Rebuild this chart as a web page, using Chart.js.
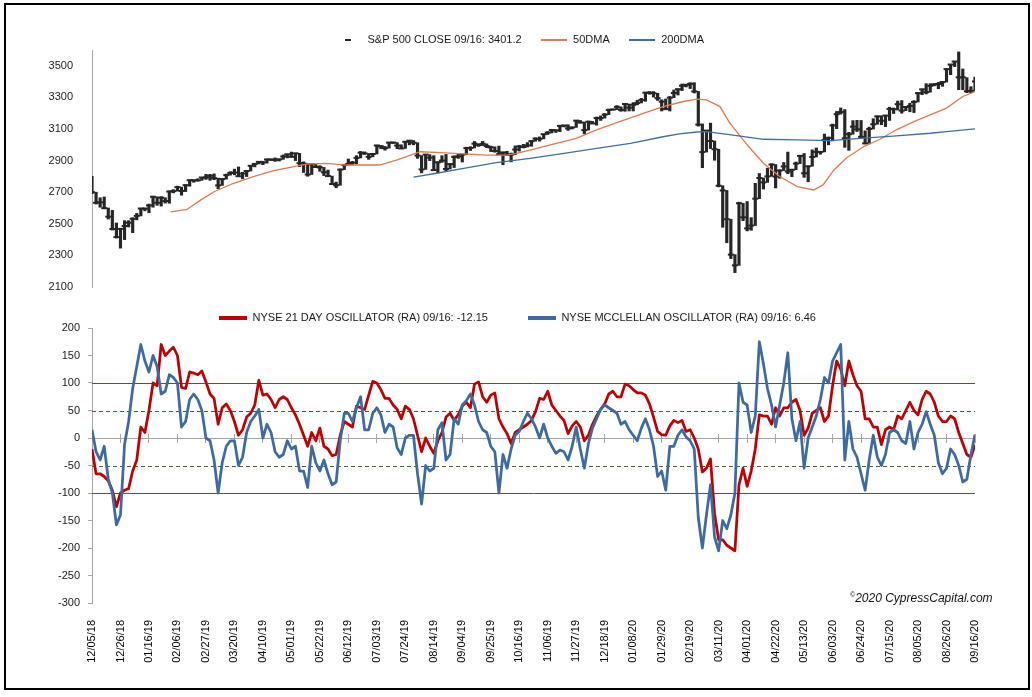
<!DOCTYPE html>
<html lang="en">
<head>
<meta charset="UTF-8">
<title>S&amp;P 500 and NYSE breadth oscillators</title>
<style>
  html, body { margin: 0; padding: 0; background: #fff; }
  body { width: 1032px; height: 697px; position: relative; overflow: hidden; font-family: "Liberation Sans", Arial, sans-serif; }
  .frame { position: absolute; left: 4px; top: 3px; width: 1026px; height: 687px; box-sizing: border-box; border: 2px solid #000; }
  #priceChart { position: absolute; left: 0; top: 0; }
  #oscChart { position: absolute; left: 0; top: 270px; }
  .credit { position: absolute; left: 850px; top: 591px; font-size: 12px; font-style: italic; color: #111; }
  .credit sup { font-size: 7px; }
</style>
</head>
<body>
<canvas id="priceChart" width="1032" height="297"></canvas>
<canvas id="oscChart" width="1032" height="420"></canvas>
<div class="frame"></div>
<div class="credit"><sup>©</sup>2020 CypressCapital.com</div>

<script src="https://cdn.jsdelivr.net/npm/chart.js"></script>
<script>
// days counted from 12/05/18, one sample every 3 calendar days up to 09/16/20 (day 651)
const sampleDays = [];
for (let d = 0; d <= 651; d += 3) sampleDays.push(d);

const dateLabels = ['12/05/18','12/26/18','01/16/19','02/06/19','02/27/19','03/20/19','04/10/19','05/01/19',
  '05/22/19','06/12/19','07/03/19','07/24/19','08/14/19','09/04/19','09/25/19','10/16/19','11/06/19','11/27/19',
  '12/18/19','01/08/20','01/29/20','02/19/20','03/11/20','04/01/20','04/22/20','05/13/20','06/03/20','06/24/20',
  '07/15/20','08/05/20','08/26/20','09/16/20'];

const priceTicks = [2100, 2300, 2500, 2700, 2900, 3100, 3300, 3500];
const oscTicks = [200, 150, 100, 50, 0, -50, -100, -150, -200, -250, -300];
const refLevels = [100, 50, -50, -100];

// S&P 500 range and close per sample
const spxLow = [2690,2625,2605,2595,2530,2460,2410,2346,2400,2480,
  2444,2525,2550,2582,2570,2605,2617,2612,2631,2630,
  2696,2707,2681,2704,2738,2763,2770,2775,2781,2775,
  2779,2722,2743,2783,2808,2810,2800,2785,2799,2834,
  2860,2879,2874,2884,2900,2895,2897,2908,2917,2923,
  2900,2862,2825,2801,2812,2855,2832,2805,2799,2750,
  2728,2744,2843,2873,2873,2880,2917,2940,2908,2924,
  2942,2975,2966,2979,3008,2975,2975,2977,3000,3000,
  2914,2822,2844,2900,2840,2822,2889,2834,2847,2856,
  2914,2891,2938,2964,2980,2990,2995,2982,2957,2953,
  2940,2874,2935,2892,2938,2960,2980,2986,2991,3023,
  3023,3038,3065,3075,3078,3083,3113,3091,3100,3110,
  3138,3070,3093,3134,3124,3154,3169,3191,3220,3223,
  3212,3212,3214,3214,3253,3265,3275,3320,3302,3281,
  3214,3222,3214,3298,3315,3343,3366,3356,3328,3118,
  2855,2954,2976,2902,2734,2478,2380,2280,2191,2237,
  2520,2455,2459,2489,2659,2720,2762,2800,2727,2788,
  2837,2817,2798,2842,2881,2794,2766,2864,2923,2940,
  2955,3000,3025,3102,3194,2984,2965,3067,3084,3044,
  3006,3009,3100,3130,3127,3115,3154,3198,3220,3200,
  3216,3209,3204,3271,3317,3322,3333,3373,3355,3370,
  3397,3444,3495,3349,3349,3330,3329,3341];
const spxHigh = [2800,2700,2665,2670,2600,2585,2505,2468,2520,2520,
  2538,2566,2597,2600,2625,2675,2671,2672,2665,2708,
  2716,2738,2732,2748,2776,2776,2785,2794,2813,2813,
  2816,2789,2785,2815,2830,2846,2860,2826,2836,2869,
  2881,2893,2896,2910,2910,2917,2910,2936,2940,2954,
  2947,2946,2892,2881,2880,2876,2868,2857,2840,2802,
  2764,2847,2876,2910,2895,2931,2958,2955,2945,2944,
  2996,2996,2990,3014,3017,3014,3000,3019,3028,3027,
  3013,2932,2938,2938,2931,2893,2931,2939,2879,2930,
  2940,2938,2985,2988,3021,3007,3022,3006,2992,2987,
  2992,2952,2959,2948,2993,2997,3003,3014,3027,3044,
  3050,3067,3084,3098,3093,3120,3124,3127,3112,3154,
  3154,3144,3150,3148,3176,3183,3198,3226,3227,3248,
  3240,3258,3258,3267,3282,3294,3330,3337,3337,3326,
  3285,3290,3306,3347,3352,3385,3380,3393,3393,3338,
  3132,3090,3137,3024,2972,2741,2711,2529,2305,2637,
  2630,2641,2539,2756,2818,2790,2852,2880,2875,2842,
  2888,2954,2842,2891,2932,2945,2865,2968,2980,2957,
  3068,3049,3131,3211,3233,3223,3079,3153,3155,3154,
  3088,3112,3165,3182,3184,3186,3238,3233,3277,3280,
  3242,3263,3280,3330,3352,3387,3387,3388,3395,3399,
  3481,3509,3528,3588,3480,3425,3368,3428];
const spxClose = [2700,2633,2636,2599,2545,2467,2416,2468,2486,2507,
  2532,2550,2597,2596,2616,2671,2633,2665,2644,2704,
  2707,2732,2708,2744,2776,2776,2775,2793,2793,2804,
  2789,2743,2783,2808,2822,2824,2801,2818,2834,2867,
  2879,2892,2888,2907,2907,2905,2908,2926,2940,2924,
  2946,2884,2881,2812,2876,2860,2857,2826,2802,2752,
  2744,2843,2873,2879,2887,2917,2950,2945,2924,2942,
  2996,2990,2979,3014,3014,2995,2977,3019,3026,3013,
  2932,2844,2938,2919,2840,2889,2900,2847,2878,2924,
  2926,2938,2979,2980,3007,2998,3006,2992,2984,2961,
  2940,2952,2938,2938,2970,2989,2986,2996,3023,3039,
  3038,3067,3077,3093,3092,3120,3122,3104,3110,3153,
  3141,3093,3146,3135,3169,3169,3191,3221,3223,3240,
  3221,3258,3235,3253,3265,3283,3330,3330,3326,3295,
  3273,3226,3298,3328,3352,3374,3380,3386,3338,3128,
  2954,3090,3024,2972,2741,2711,2529,2305,2237,2630,
  2541,2471,2489,2659,2790,2762,2800,2875,2799,2837,
  2863,2831,2842,2881,2930,2820,2864,2923,2955,2955,
  3030,3044,3123,3194,3207,3041,3067,3115,3098,3050,
  3009,3100,3130,3180,3152,3185,3227,3225,3257,3216,
  3239,3246,3271,3327,3351,3333,3373,3382,3385,3397,
  3479,3508,3527,3427,3427,3339,3341,3401.2];

const dma50Days = [58,70,80,90,104,119,134,148,158,173,188,212,225,242,257,274,291,306,313,323,338,357,372,389,
  407,421,436,446,453,463,470,483,495,507,520,532,539,547,556,569,581,593,606,618,630,642,651];
const dma50 = [2576,2591,2650,2703,2755,2798,2836,2861,2878,2882,2872,2872,2904,2956,2950,2942,2935,2935,2946,2967,
  2999,3041,3094,3147,3200,3242,3274,3289,3284,3242,3140,3000,2883,2799,2736,2714,2746,2841,2915,2989,3035,3095,
  3147,3190,3232,3306,3337];
const dma200Days = [237,254,274,298,323,348,372,397,421,433,446,453,470,495,520,544,569,593,618,630,651];
const dma200 = [2795,2820,2851,2887,2914,2946,2977,3009,3051,3069,3081,3084,3065,3035,3031,3027,3042,3057,3073,3084,3101];

// NYSE breadth oscillators per sample
const osc21 = [-20,-65,-65,-70,-78,-95,-125,-100,-95,-92,
  -60,-40,20,10,50,100,95,170,150,158,
  165,150,92,90,120,118,115,122,102,80,
  72,25,55,62,50,30,5,15,38,45,
  60,105,78,80,70,55,70,75,70,55,
  42,25,5,-15,10,-5,18,-15,-20,-32,
  -30,5,30,25,
  20,58,55,52,78,103,100,88,72,72,
  60,52,35,58,52,35,5,-25,0,-15,
  -28,-5,10,38,45,32,42,58,65,55,
  98,102,75,65,78,82,35,20,8,-10,
  10,15,20,25,32,48,72,70,85,60,
  50,40,32,8,22,30,20,-5,5,25,
  40,52,62,80,85,75,75,98,95,88,
  82,82,78,62,38,12,6,5,22,32,
  28,
  32,12,15,0,-20,-62,-55,-38,-138,-185,
  -185,-195,-200,-205,-85,-55,-88,-60,-20,42,
  40,40,25,55,40,55,55,65,70,50,
  5,18,45,50,55,30,40,95,140,125,
  95,140,115,95,85,35,35,20,20,-12,
  15,20,15,40,35,50,65,50,42,70,
  85,80,65,40,30,30,40,35,10,-10,
  -30,-35,-12.15];
const mcclellan = [15,-25,-40,-15,-75,-100,-158,-140,-12,30,
  90,130,170,140,120,150,130,80,85,115,
  110,100,20,30,70,80,70,50,0,-5,
  -40,-100,-45,-15,-5,-5,-50,-35,10,30,
  40,52,0,25,10,-25,-35,-30,-5,-20,
  -15,-60,-60,-90,-15,-45,-60,-40,-65,-85,
  -80,-5,45,45,
  30,55,75,15,15,45,55,42,10,25,
  20,-18,-30,0,5,5,-65,-120,-50,-60,
  -55,15,28,-40,-30,35,25,60,68,80,
  60,30,15,10,-15,-25,-100,-30,-55,-20,
  5,12,30,45,35,20,0,25,0,-15,
  -28,-22,-25,-40,-15,20,-20,-55,-10,18,
  35,52,60,55,50,45,25,30,15,5,
  -5,18,35,15,-15,-70,-60,-95,-15,-15,
  5,
  15,2,-5,-20,-145,-200,-140,-85,-180,-205,
  -150,-165,-140,-100,100,65,60,10,40,175,
  135,90,60,20,60,100,155,35,-5,30,
  -55,0,20,40,70,110,100,140,155,170,
  -40,30,-20,-35,-65,-95,-40,5,-35,-50,
  -30,10,15,10,-5,-10,30,-20,10,25,
  48,25,5,-45,-65,-55,-20,-30,-50,-80,
  -75,-30,6.46];

Chart.defaults.font.family = '"Liberation Sans", Arial, sans-serif';
Chart.defaults.font.size = 11;
Chart.defaults.color = '#1a1a1a';

const pts = (xs, ys) => ys.map((y, i) => ({ x: xs[i], y: y }));

// small solid swatches used as legend markers
function swatch(w, h, color) {
  const c = document.createElement('canvas');
  c.width = w; c.height = h;
  const g = c.getContext('2d');
  g.fillStyle = color;
  g.fillRect(0, 0, w, h);
  return c;
}

// force the legend box height so the plot area starts where wanted,
// and nudge the legend sideways so it sits where the original has it
function legendTweak(h, dx) {
  return {
    id: 'legendTweak',
    beforeInit(chart) {
      const lg = chart.legend;
      const fit = lg.fit;
      const draw = lg.draw;
      lg.fit = function () { fit.call(this); this.height = h; };
      lg.draw = function () {
        this.ctx.save();
        this.ctx.translate(dx, 0);
        draw.call(this);
        this.ctx.restore();
      };
    }
  };
}

const axisGrey = '#A6A6A6';

// ---------- top panel: S&P 500 ----------
const topMarkers = [null, swatch(6, 2, '#262626'), swatch(26, 2, '#E07A4F'), swatch(26, 2, '#3F6EA6')];

new Chart(document.getElementById('priceChart'), {
  type: 'line',
  data: {
    datasets: [
      {
        type: 'bar',
        label: 'range',
        data: sampleDays.map((d, i) => ({ x: d, y: [spxLow[i], spxHigh[i]] })),
        backgroundColor: '#262626',
        barThickness: 2.5,
        order: 3
      },
      {
        label: 'S&P 500 CLOSE 09/16: 3401.2',
        data: pts(sampleDays, spxClose),
        showLine: false,
        pointStyle: 'line',
        pointRadius: 3,
        borderColor: '#262626',
        borderWidth: 2,
        order: 2
      },
      {
        label: '50DMA',
        data: pts(dma50Days, dma50),
        borderColor: '#E07A4F',
        borderWidth: 1.3,
        pointRadius: 0,
        order: 1
      },
      {
        label: '200DMA',
        data: pts(dma200Days, dma200),
        borderColor: '#3F6EA6',
        borderWidth: 1.3,
        pointRadius: 0,
        order: 0
      }
    ]
  },
  options: {
    responsive: false,
    animation: false,
    events: [],
    layout: { padding: { top: 15.5, left: 0, right: 57, bottom: 10 } },
    plugins: {
      tooltip: { enabled: false },
      legend: {
        labels: {
          usePointStyle: true,
          pointStyleWidth: 27,
          padding: 19,
          color: '#1a1a1a',
          filter: item => item.datasetIndex > 0,
          sort: (a, b) => a.datasetIndex - b.datasetIndex,
          generateLabels(chart) {
            const items = Chart.defaults.plugins.legend.labels.generateLabels(chart);
            items.forEach(it => { it.pointStyle = topMarkers[it.datasetIndex]; });
            return items;
          }
        }
      }
    },
    scales: {
      x: { type: 'linear', min: 0, max: 651, display: false, offset: false },
      y: {
        min: 2100,
        max: 3600,
        afterBuildTicks: s => { s.ticks = priceTicks.map(v => ({ value: v })); },
        afterFit: s => { s.width = 92; s.paddingTop = 0; s.paddingBottom = 0; },
        ticks: { padding: 11, color: '#1a1a1a', callback: v => String(v) },
        grid: { display: false },
        border: { color: axisGrey }
      }
    }
  },
  plugins: [legendTweak(34.5, 32)]
});

// ---------- bottom panel: oscillators ----------
const bottomMarkers = [swatch(28, 4, '#C00000'), swatch(28, 4, '#3C6BA3')];

const refLines = {
  id: 'refLines',
  beforeDatasetsDraw(chart) {
    const { ctx, chartArea, scales } = chart;
    const looks = [
      { color: '#943634', dash: [] },
      { color: '#943634', dash: [4, 3] },
      { color: '#4F6228', dash: [4, 3] },
      { color: '#4F6228', dash: [] }
    ];
    refLevels.forEach((lvl, i) => {
      const py = Math.round(scales.y.getPixelForValue(lvl)) + 0.5;
      ctx.save();
      ctx.strokeStyle = looks[i].color;
      ctx.lineWidth = 1;
      ctx.setLineDash(looks[i].dash);
      ctx.beginPath();
      ctx.moveTo(chartArea.left, py);
      ctx.lineTo(chartArea.right, py);
      ctx.stroke();
      ctx.restore();
    });
  }
};

function zeroAxis(len, showLine) {
  return {
    type: 'linear', min: 0, max: 651, offset: false,
    position: { y: 0 },
    ticks: { display: false, stepSize: 21, maxTicksLimit: 40 },
    grid: { drawOnChartArea: false, tickLength: len, color: axisGrey },
    border: { display: showLine, color: axisGrey }
  };
}

new Chart(document.getElementById('oscChart'), {
  type: 'line',
  data: {
    datasets: [
      {
        label: 'NYSE 21 DAY OSCILLATOR (RA) 09/16: -12.15',
        data: pts(sampleDays, osc21),
        xAxisID: 'x',
        borderColor: '#C00000',
        borderWidth: 2.75,
        pointRadius: 0,
        borderJoinStyle: 'round',
        order: 2
      },
      {
        label: 'NYSE MCCLELLAN OSCILLATOR (RA) 09/16: 6.46',
        data: pts(sampleDays, mcclellan),
        xAxisID: 'x',
        borderColor: '#3C6BA3',
        borderWidth: 2.75,
        pointRadius: 0,
        borderJoinStyle: 'round',
        order: 1
      }
    ]
  },
  options: {
    responsive: false,
    animation: false,
    events: [],
    layout: { padding: { top: 2.5, left: 0, right: 57, bottom: 10 } },
    plugins: {
      tooltip: { enabled: false },
      legend: {
        labels: {
          usePointStyle: true,
          pointStyleWidth: 28,
          padding: 40,
          color: '#1a1a1a',
          sort: (a, b) => a.datasetIndex - b.datasetIndex,
          generateLabels(chart) {
            const items = Chart.defaults.plugins.legend.labels.generateLabels(chart);
            items.forEach(it => { it.pointStyle = bottomMarkers[it.datasetIndex]; });
            return items;
          }
        }
      }
    },
    scales: {
      x: {
        type: 'linear', min: 0, max: 651, offset: false, position: 'bottom',
        grid: { display: false },
        border: { display: false },
        ticks: {
          stepSize: 21, maxTicksLimit: 40, autoSkip: false,
          maxRotation: 90, minRotation: 90, padding: 9, color: '#000',
          callback: v => dateLabels[Math.round(v / 21)]
        },
        afterFit: s => { s.height = 77; s.paddingLeft = 0; s.paddingRight = 0; }
      },
      xZero: zeroAxis(4, true),
      xZeroUp: zeroAxis(-4, false),
      y: {
        min: -300,
        max: 200,
        afterBuildTicks: s => { s.ticks = oscTicks.map(v => ({ value: v })); },
        afterFit: s => { s.width = 92; s.paddingTop = 0; s.paddingBottom = 0; },
        ticks: { padding: 8, color: '#1a1a1a' },
        grid: { drawOnChartArea: false, tickLength: 4, color: axisGrey },
        border: { color: axisGrey }
      }
    }
  },
  plugins: [refLines, legendTweak(55.5, 30)]
});
</script>
</body>
</html>
